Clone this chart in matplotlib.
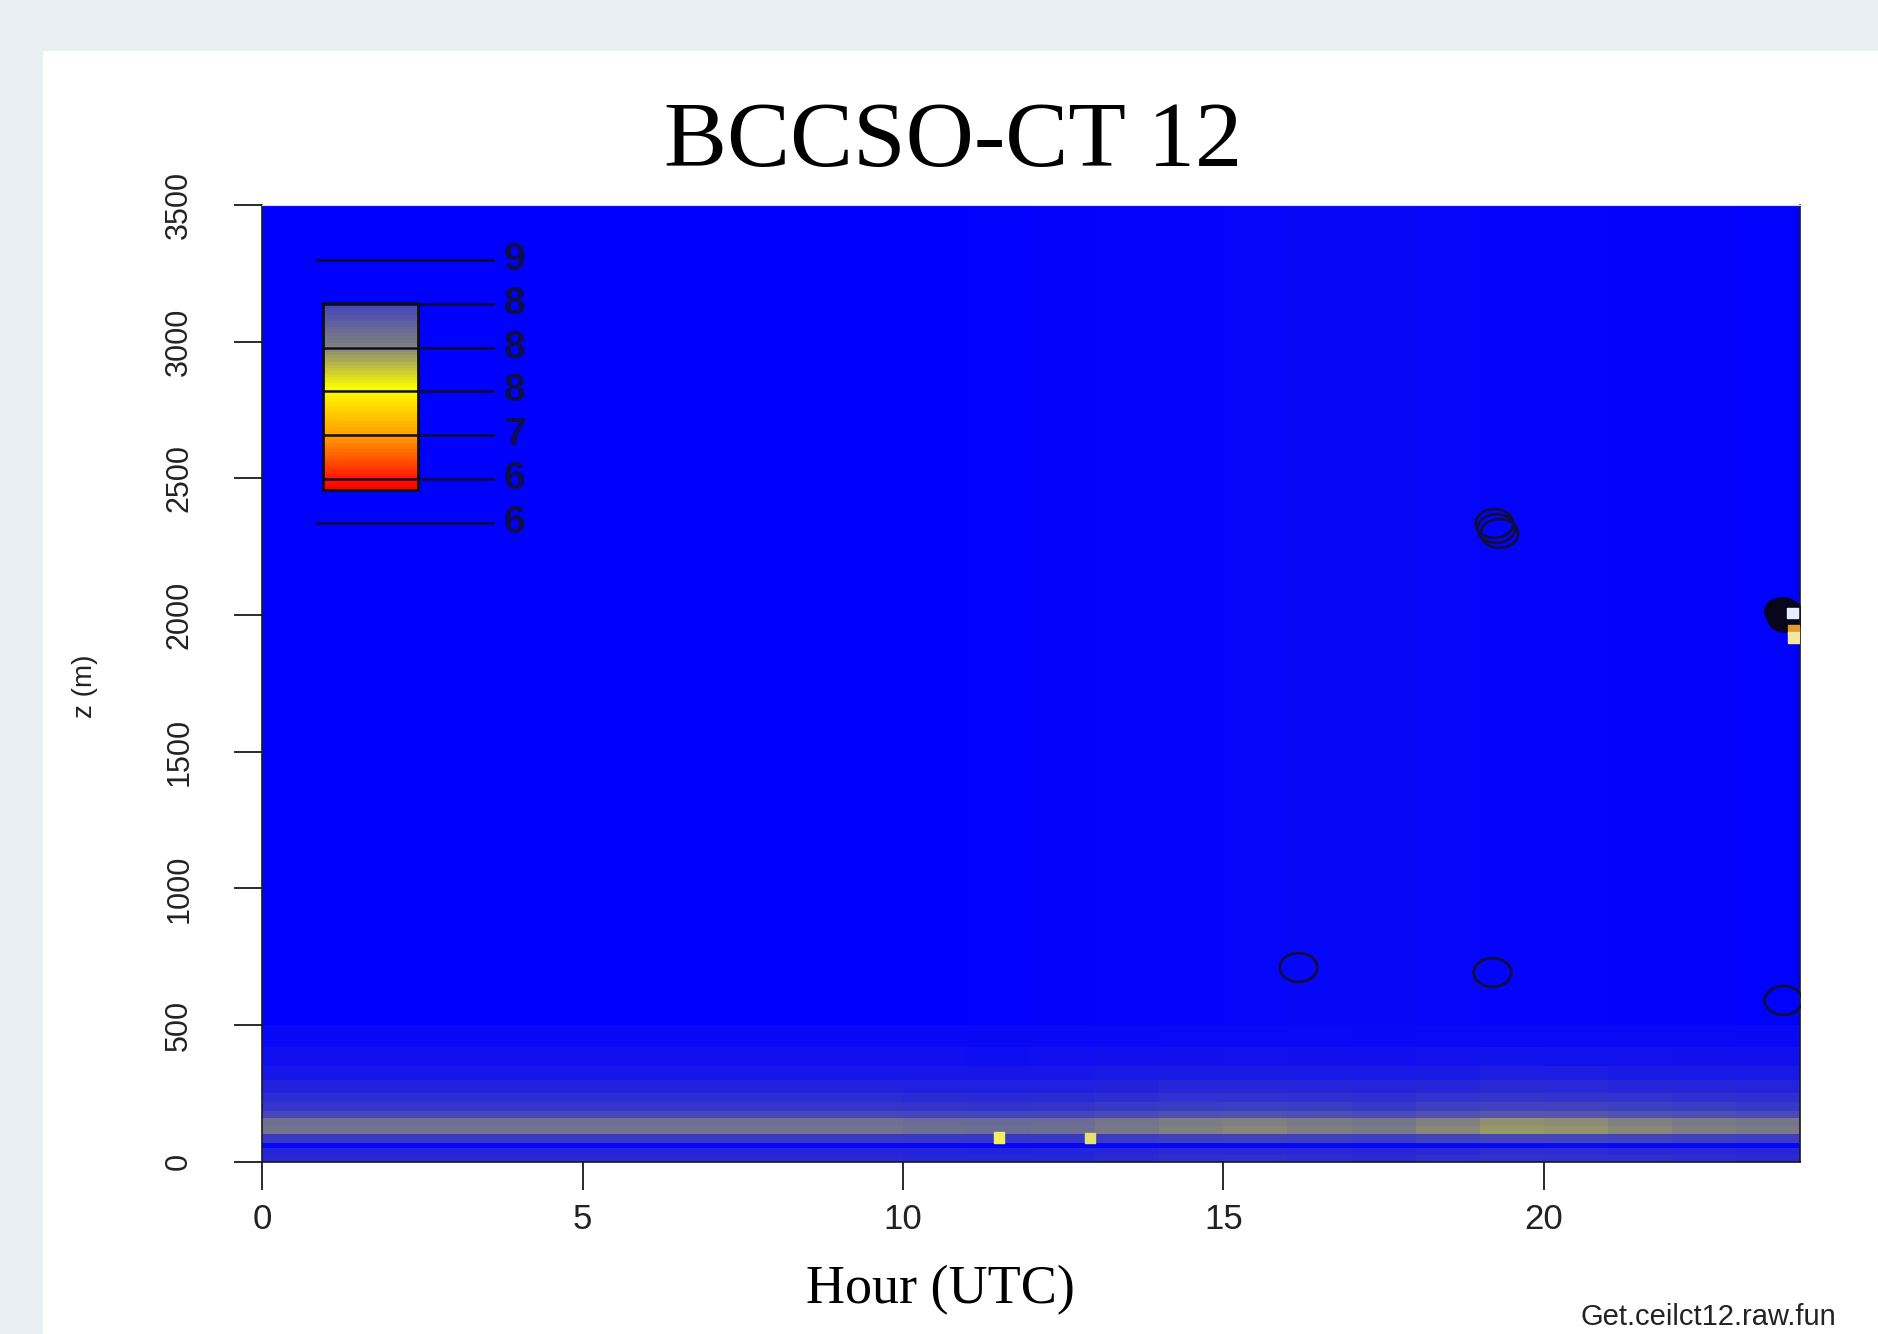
import numpy as np
import matplotlib
matplotlib.use("Agg")
import matplotlib.pyplot as plt
from matplotlib.colors import LinearSegmentedColormap
from matplotlib.patches import Rectangle
from matplotlib.path import Path

# ---- data ----
hour_edges = np.arange(0, 25, 1)
height_edges = [0, 25, 50, 70, 100, 130, 160, 185, 220, 250, 300, 350, 420, 500, 3500]
# colour position (0 = blue, ~0.38 = grey, ~0.57 = yellow, 1 = red) per height bin
profile = [0.12, 0.11, 0.02, 0.17, 0.34, 0.33, 0.21, 0.16, 0.13, 0.10, 0.07, 0.045, 0.025, 0.0]
# how strong the low band is per hour
hour_scale = [1.0, 1.0, 1.0, 1.0, 1.0, 1.0, 1.0, 1.0, 1.0, 1.0, 0.97, 0.95, 0.97, 1.05,
              1.12, 1.14, 1.1, 1.06, 1.16, 1.22, 1.2, 1.15, 1.1, 1.06]
upper_haze = [0, 0, 0, 0, 0, 0, 0, 0, 0, 0, 0.003, 0.006, 0.009, 0.012,
              0.015, 0.018, 0.02, 0.02, 0.018, 0.015, 0.012, 0.01, 0.008, 0.006]

circle_hours = [16.17, 19.19, 23.73, 19.22, 19.30, 19.26]
circle_z = [712, 694, 592, 2338, 2300, 2318]
blob_hours = [23.72, 23.80, 23.77]
blob_z = [2015, 2000, 1990]

spot_hours = [11.50, 12.92, 23.88, 23.90, 23.90]
spot_z = [90, 87, 2007, 1945, 1917]
spot_colors = ['#f2f05a', '#e6e070', '#e8ecff', '#e09a30', '#f2e6a0']

legend_z = [3298, 3138, 2978, 2818, 2658, 2498, 2338]
legend_labels = ['9', '8', '8', '8', '7', '6', '6']
legend_start = [0.85, 0.95, 0.95, 0.95, 0.95, 0.95, 0.85]

cmap = LinearSegmentedColormap.from_list(
    'ceil', [(0.0, '#0000ff'), (0.38, '#808080'), (0.57, '#ffff00'),
             (0.77, '#ffa000'), (0.97, '#ff1000'), (1.0, '#ff0000')])

values = np.outer(profile, hour_scale)
values[-1, :] = upper_haze

fig = plt.figure(figsize=(18.78, 13.34), dpi=100)
fig.patch.set_facecolor('#e8f0f4')
fig.add_artist(Rectangle((43 / 1878, 0), 1, 1 - 51 / 1334, transform=fig.transFigure,
                         facecolor='white', edgecolor='none', zorder=-10))

ax = fig.add_axes([262.3 / 1878, 1 - 1161.8 / 1334, (1800 - 262.3) / 1878, (1161.8 - 204.8) / 1334])
ax.pcolormesh(hour_edges, height_edges, values, cmap=cmap, vmin=0, vmax=1, shading='flat')
ax.set_xlim(0, 24)
ax.set_ylim(0, 3500)

# ellipse marker like the stretched R circles
uc = Path.unit_circle()
ell = Path(uc.vertices * [1.3, 1.0], uc.codes)

ax.plot(circle_hours, circle_z, linestyle='none', marker=ell, ms=27,
        mfc='none', mec='#0e0e40', mew=2.0)
ax.plot(blob_hours, blob_z, linestyle='none', marker=ell, ms=25,
        mfc='#06061c', mec='#06061c', mew=1.5)
ax.scatter(spot_hours, spot_z, marker='s', s=60, c=spot_colors, zorder=5)

# legend block in the top-left corner
box_bottom, box_top = 2457, 3141
grad = np.linspace(1.0, 0.2, 60).reshape(-1, 1)
ax.imshow(grad, cmap=cmap, vmin=0, vmax=1, aspect='auto', origin='lower',
          extent=[0.95, 2.43, box_bottom, box_top], zorder=3)
ax.add_patch(Rectangle((0.95, box_bottom), 2.43 - 0.95, box_top - box_bottom,
                       facecolor='none', edgecolor='#101010', lw=2, zorder=4))
for z, lab, x0 in zip(legend_z, legend_labels, legend_start):
    ax.plot([x0, 3.6], [z, z], color='#0c0c30', lw=1.8, zorder=4)
    ax.text(3.94, z, lab, ha='center', va='center', fontsize=28, fontweight='bold',
            family='Liberation Sans', color='#0e0e48', zorder=4)

ax.set_xticks([0, 5, 10, 15, 20])
ax.set_yticks(np.arange(0, 3501, 500))
ax.tick_params(axis='both', direction='out', length=20, width=1.3, color='#1a1a1a',
               labelcolor='#222222')
ax.tick_params(axis='x', labelsize=25, pad=10)
ax.tick_params(axis='y', labelsize=22, pad=29, labelrotation=90)
for lbl in ax.get_xticklabels() + ax.get_yticklabels():
    lbl.set_family('Liberation Sans')
for lbl in ax.get_yticklabels():
    lbl.set_va('center')
for side in ['left', 'bottom', 'right']:
    ax.spines[side].set_color('#1a1a1a')
    ax.spines[side].set_linewidth(1.2)
ax.spines['top'].set_color('#dde0f0')

fig.text(953 / 1878, 1 - 166 / 1334, 'BCCSO-CT 12', ha='center', va='baseline',
         fontsize=68, family='Liberation Serif')
fig.text(940 / 1878, 1 - 1303 / 1334, 'Hour (UTC)', ha='center', va='baseline',
         fontsize=39, family='Liberation Serif')
fig.text(85 / 1878, 1 - 686 / 1334, 'z (m)', ha='center', va='center', rotation=90,
         fontsize=20, family='Liberation Sans', color='#222222')
fig.text(1581 / 1878, 1 - 1325 / 1334, 'Get.ceilct12.raw.fun', ha='left', va='baseline',
         fontsize=21, family='Liberation Sans', color='#222222')

fig.savefig('out.png', dpi=100, facecolor=fig.get_facecolor())
